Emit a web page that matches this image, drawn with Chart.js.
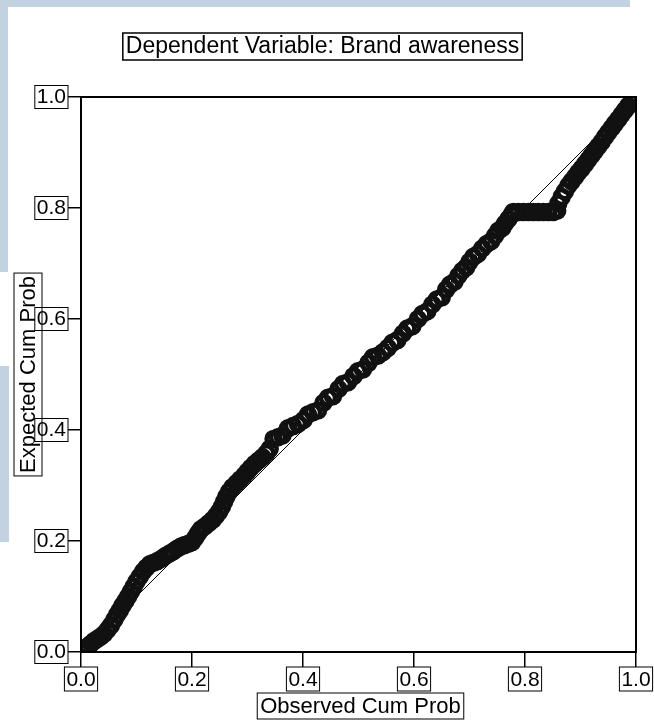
<!DOCTYPE html>
<html lang="en">
<head>
<meta charset="UTF-8">
<title>Normal P-P Plot</title>
<script src="https://cdn.jsdelivr.net/npm/chart.js@4.4.1/dist/chart.umd.min.js"></script>
<style>
  html, body { margin: 0; padding: 0; background: #fff; }
  #marco { position: relative; width: 654px; height: 720px; }
  .franja { position: absolute; background: #c3d2e0; }
  #grafico { position: relative; }
</style>
</head>
<body>
<div id="marco">
  <div class="franja" style="left:8px;top:0;width:622px;height:7px"></div>
  <div class="franja" style="left:0;top:0;width:8px;height:272px"></div>
  <div class="franja" style="left:0;top:366px;width:9px;height:176px"></div>
  <canvas id="grafico" width="654" height="720"></canvas>
</div>

<script>
  // textos
  const titulo = "Dependent Variable: Brand awareness";
  const tituloX = "Observed Cum Prob";
  const tituloY = "Expected Cum Prob";

  // eje: 0.0 .. 1.0 cada 0.2
  const ejeMin = 0, ejeMax = 1, ejePaso = 0.2;

  // linea de referencia (diagonal)
  const refX = [0, 1];
  const refY = [0, 1];

  const obsCum = [
    0.000, 0.006, 0.012, 0.018, 0.024, 0.030, 0.036, 0.042, 0.048, 0.054,
    0.060, 0.065, 0.070, 0.075, 0.080, 0.085, 0.090, 0.095, 0.100, 0.106, 0.112, 0.118, 0.124,
    0.131, 0.138, 0.145, 0.152, 0.159, 0.166, 0.173, 0.180, 0.187, 0.194, 0.200,
    0.206, 0.211, 0.216, 0.223, 0.230, 0.237, 0.243, 0.249, 0.254, 0.258, 0.262, 0.267,
    0.273, 0.280, 0.287, 0.294, 0.300, 0.306, 0.313, 0.320, 0.327, 0.334, 0.340,
    0.347, 0.355, 0.363, 0.373, 0.382, 0.391, 0.401, 0.409, 0.418, 0.427,
    0.437, 0.445, 0.454, 0.464, 0.472, 0.481, 0.491, 0.499, 0.508,
    0.518, 0.526, 0.535, 0.544, 0.553, 0.561, 0.570, 0.580, 0.588, 0.597,
    0.607, 0.615, 0.624, 0.633, 0.641, 0.650, 0.658, 0.665, 0.673,
    0.680, 0.687, 0.694, 0.700, 0.707, 0.715, 0.723, 0.731, 0.739,
    0.746, 0.752, 0.759, 0.764, 0.770, 0.776,
    0.779, 0.788, 0.797, 0.806, 0.815, 0.824, 0.833, 0.842, 0.851, 0.858,
    0.860, 0.866, 0.872, 0.878, 0.884, 0.890, 0.896, 0.902, 0.908, 0.914, 0.920, 0.926,
    0.932, 0.938, 0.944, 0.950, 0.956, 0.962, 0.968, 0.974, 0.980, 0.986, 0.992, 0.998
  ];
  const espCum = [
    0.002, 0.006, 0.010, 0.015, 0.020, 0.024, 0.028, 0.033, 0.040, 0.048,
    0.058, 0.067, 0.075, 0.084, 0.092, 0.100, 0.109, 0.118, 0.127, 0.136, 0.145, 0.152, 0.158,
    0.161, 0.164, 0.168, 0.173, 0.177, 0.181, 0.186, 0.190, 0.193, 0.195, 0.198,
    0.206, 0.214, 0.221, 0.226, 0.232, 0.238, 0.245, 0.253, 0.262, 0.271, 0.280, 0.289,
    0.297, 0.304, 0.311, 0.318, 0.325, 0.332, 0.339, 0.345, 0.351, 0.358, 0.366,
    0.384, 0.387, 0.390, 0.403, 0.407, 0.411, 0.418, 0.428, 0.432, 0.435,
    0.449, 0.458, 0.461, 0.474, 0.483, 0.486, 0.497, 0.506, 0.509,
    0.521, 0.531, 0.534, 0.540, 0.548, 0.557, 0.562, 0.574, 0.583, 0.587,
    0.600, 0.609, 0.614, 0.626, 0.635, 0.639, 0.653, 0.662, 0.667,
    0.678, 0.687, 0.693, 0.703, 0.712, 0.717, 0.727, 0.735, 0.740,
    0.750, 0.759, 0.764, 0.772, 0.780, 0.788,
    0.793, 0.793, 0.793, 0.793, 0.793, 0.793, 0.793, 0.793, 0.793, 0.795,
    0.808, 0.820, 0.830, 0.840, 0.848, 0.856, 0.864, 0.871, 0.879, 0.887, 0.895, 0.903,
    0.911, 0.919, 0.928, 0.936, 0.944, 0.952, 0.960, 0.968, 0.976, 0.984, 0.991, 0.998
  ];

  const fuente = "'Liberation Sans', Arial, sans-serif";
  const tamTick = 21, tamTitulo = 23;

  // cajas alrededor de los textos (como en la salida de SPSS) y marco del area
  const cajas = {
    id: 'cajas',
    afterDraw(chart) {
      const ctx = chart.ctx;
      const area = chart.chartArea;
      const sx = chart.scales.x, sy = chart.scales.y;
      ctx.save();
      ctx.strokeStyle = '#000';
      ctx.fillStyle = '#000';

      // marco
      ctx.lineWidth = 2;
      ctx.strokeRect(area.left, area.top, area.right - area.left, area.bottom - area.top);

      // cajas de los ticks
      ctx.lineWidth = 1;
      ctx.font = tamTick + 'px ' + fuente;
      sy.ticks.forEach(t => {
        const py = sy.getPixelForValue(t.value);
        const w = ctx.measureText(t.label).width;
        const der = sy.right - sy.options.grid.tickLength;
        ctx.strokeRect(der - w - 4, py - 11.5, w + 4, 23);
      });
      sx.ticks.forEach(t => {
        const px = sx.getPixelForValue(t.value);
        const w = ctx.measureText(t.label).width;
        const arriba = sx.top + sx.options.grid.tickLength;
        ctx.strokeRect(px - w / 2 - 2, arriba, w + 4, 24);
      });

      // titulos
      ctx.font = tamTitulo + 'px ' + fuente;
      ctx.textAlign = 'center';
      ctx.textBaseline = 'middle';

      let w = ctx.measureText(titulo).width;
      const tx = (area.left + area.right) / 2 - 36;
      ctx.fillText(titulo, tx, 47);
      ctx.lineWidth = 1.5;
      ctx.strokeRect(tx - w / 2 - 3, 33, w + 6, 27);

      ctx.lineWidth = 1;
      ctx.font = (tamTitulo - 1) + 'px ' + fuente;
      w = ctx.measureText(tituloX).width;
      const xx = (area.left + area.right) / 2 + 2;
      ctx.fillText(tituloX, xx, 707);
      ctx.strokeRect(xx - w / 2 - 3, 693, w + 6, 26);

      w = ctx.measureText(tituloY).width;
      ctx.translate(28, (area.top + area.bottom) / 2);
      ctx.rotate(-Math.PI / 2);
      ctx.fillText(tituloY, 0, 1);
      ctx.strokeRect(-w / 2 - 3, -14, w + 6, 28);
      ctx.restore();
    }
  };

  const ejeComun = {
    type: 'linear',
    min: ejeMin,
    max: ejeMax,
    ticks: {
      stepSize: ejePaso,
      color: '#000',
      font: { family: fuente, size: tamTick },
      padding: 2,
      autoSkip: false,
      maxRotation: 0,
      callback: v => Number(v).toFixed(1)
    },
    border: { display: true, color: '#000', width: 2 }
  };

  const ctx = document.getElementById('grafico').getContext('2d');
  const grafico = new Chart(ctx, {
    type: 'scatter',
    data: {
      datasets: [
        {
          label: 'Observed',
          data: obsCum.map((v, i) => ({ x: v, y: espCum[i] })),
          pointRadius: 7,
          pointHoverRadius: 7,
          pointBorderWidth: 4.5,
          pointBorderColor: '#111',
          pointBackgroundColor: 'rgba(0,0,0,0)',
          showLine: false,
          order: 0
        },
        {
          label: 'Diagonal',
          data: refX.map((v, i) => ({ x: v, y: refY[i] })),
          showLine: true,
          borderColor: '#000',
          borderWidth: 1,
          pointRadius: 0,
          order: 1
        }
      ]
    },
    options: {
      responsive: false,
      animation: false,
      layout: { padding: { top: 97, right: 18, left: 0, bottom: 0 } },
      plugins: {
        legend: { display: false },
        tooltip: { enabled: false },
        title: { display: false }
      },
      scales: {
        x: {
          ...ejeComun,
          afterFit: s => { s.height = 68; },
          grid: { display: true, drawOnChartArea: false, drawTicks: true, tickLength: 15, color: '#000', lineWidth: 1.5 },
          ticks: { ...ejeComun.ticks, padding: 1 }
        },
        y: {
          ...ejeComun,
          afterFit: s => { s.width = 81; },
          grid: { display: true, drawOnChartArea: false, drawTicks: true, tickLength: 13, color: '#000', lineWidth: 1.5 }
        }
      }
    },
    plugins: [cajas]
  });
</script>
</body>
</html>
